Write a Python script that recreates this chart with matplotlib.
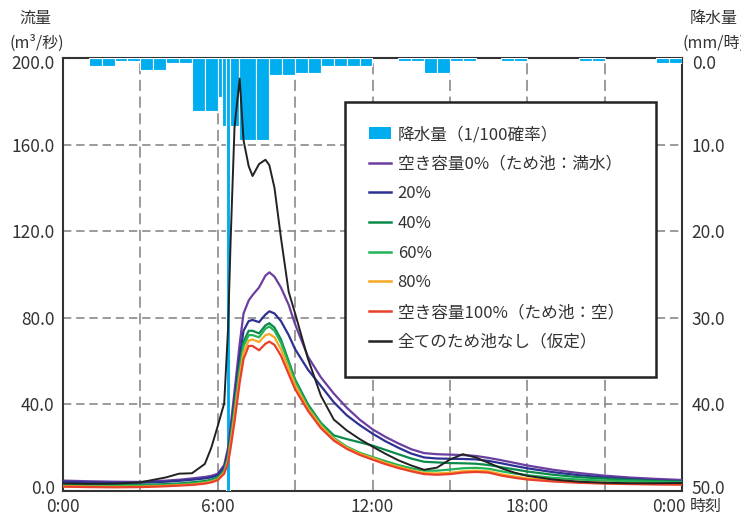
import matplotlib
matplotlib.use('Agg')
import matplotlib.pyplot as plt
from matplotlib.patches import Rectangle, Patch
from matplotlib.lines import Line2D
from matplotlib.transforms import ScaledTranslation

plt.rcParams['font.family'] = ['Noto Sans CJK JP', 'DejaVu Sans']
plt.rcParams['lines.scale_dashes'] = False

# ---------------- data ----------------
hours = [0, 1, 2, 3, 4, 4.5, 5, 5.5, 5.75, 6, 6.25, 6.4, 6.5, 6.65, 6.85, 7.0, 7.2, 7.35,
         7.6, 7.85, 8.0, 8.2, 8.45, 8.75, 9, 9.5, 10, 10.5, 11, 11.5, 12, 12.5, 13, 13.5,
         14, 14.5, 15, 15.5, 16, 16.5, 17, 17.5, 18, 19, 20, 21, 22, 23, 24]

flow_0 = [4.8, 4.5, 4.3, 4.2, 4.8, 5.2, 5.8, 6.5, 7, 8, 12, 20, 30, 46, 68, 82, 88, 90.5,
          94, 99.5, 101, 99, 94, 86, 77, 62, 52.5, 45, 38.5, 33, 28.5, 25, 22, 19.3,
          17.5, 17, 16.8, 16.6, 16.2, 15.3, 14.2, 13, 11.8, 9.8, 8.3, 7.1, 6.2, 5.6, 5.1]
flow_20 = [4.3, 4.0, 3.8, 3.8, 4.3, 4.7, 5.2, 5.8, 6.3, 7.3, 11, 18, 27, 42, 62, 74, 78.5, 79,
           78, 81.5, 83, 82, 78.5, 72, 65.5, 56, 48.5, 41, 35, 30.5, 26.5, 23, 20, 17.3,
           15.5, 15, 14.9, 14.8, 14.6, 13.9, 12.8, 11.6, 10.5, 8.7, 7.3, 6.3, 5.5, 4.9, 4.5]
flow_40 = [3.0, 2.8, 2.7, 2.8, 3.2, 3.5, 4.0, 4.6, 5.2, 6.3, 9.5, 16, 25, 39, 58, 69, 74, 74,
           72.8, 76.5, 77.5, 75.5, 70, 60, 51.5, 40, 31.5, 25.7, 24, 22.5, 21, 19, 17, 15,
           13.5, 13.2, 12.9, 12.8, 12.6, 12, 11, 10, 9, 7.5, 6.4, 5.7, 5.1, 4.6, 4.3]
flow_60 = [2.6, 2.4, 2.3, 2.4, 2.8, 3.1, 3.5, 4.2, 4.8, 5.8, 9, 15, 23.5, 37, 56, 67, 72, 72,
           71, 75, 76, 74, 68.5, 59, 50.5, 39, 31, 24.5, 20.5, 17.7, 15.7, 13.8, 12, 10.5,
           9.4, 9.4, 9.9, 10.5, 10.7, 10.3, 9.1, 8.1, 7.3, 6.1, 5.3, 4.8, 4.5, 4.2, 4.0]
flow_80 = [2.2, 2.0, 1.9, 2.0, 2.4, 2.7, 3.0, 3.7, 4.3, 5.3, 8.5, 14, 22, 35, 53, 64, 69.5, 70,
           68.8, 72, 72.5, 71, 65.5, 56.5, 49, 38, 30, 24, 20, 17.2, 15.2, 13, 11.2, 9.6,
           8.3, 8.1, 8.4, 9.1, 9.4, 9.1, 7.7, 6.7, 5.8, 4.8, 4.2, 3.8, 3.5, 3.3, 3.2]
flow_100 = [2.0, 1.8, 1.7, 1.8, 2.2, 2.5, 2.8, 3.4, 4, 5, 8, 13, 20, 32, 50, 61, 67, 67,
            65, 68, 69, 67.5, 62.5, 54, 47, 37, 29, 23.3, 19.5, 16.7, 14.5, 12.4, 10.6, 9.1,
            7.8, 7.5, 7.8, 8.5, 8.8, 8.5, 7.1, 6.1, 5.3, 4.4, 3.8, 3.4, 3.2, 3.0, 2.9]
flow_none = [3.5, 3.3, 3.4, 4.0, 6.3, 8.0, 8.2, 12.5, 20, 30, 40.5, 75, 116, 168, 190.5, 162, 150, 145.5,
             151, 153, 150.5, 140, 117, 92, 82, 61, 44, 33, 28, 24, 20.5, 17.2, 14.2, 11.8,
             9.8, 10.8, 14.5, 17, 15.5, 13, 10.5, 8.5, 7, 5.3, 4.3, 3.8, 3.6, 3.6, 3.7]

rain_start = [1.0, 1.5, 2.0, 2.5, 3.0, 3.5, 4.0, 4.5, 5.0, 5.5, 6.0, 6.17, 6.33, 6.47, 6.83, 7.5,
              8.0, 8.5, 9.0, 9.5, 10.0, 10.5, 11.0, 11.5, 13.0, 13.5, 14.0, 14.5, 15.0, 15.5,
              17.0, 17.5, 20.0, 20.5, 23.0, 23.5]
rain_end = [1.5, 2.0, 2.5, 3.0, 3.5, 4.0, 4.5, 5.0, 5.5, 6.0, 6.17, 6.33, 6.47, 6.83, 7.5, 8.0,
            8.5, 9.0, 9.5, 10.0, 10.5, 11.0, 11.5, 12.0, 13.5, 14.0, 14.5, 15.0, 15.5, 16.0,
            17.5, 18.0, 20.5, 21.0, 23.5, 24.0]
rain_mm = [0.9, 0.9, 0.35, 0.35, 1.4, 1.4, 0.55, 0.55, 6.1, 6.1, 4.5, 7.8, 50, 7.8, 9.5, 9.5,
           2.0, 2.0, 1.7, 1.7, 0.9, 0.9, 0.9, 0.9, 0.35, 0.35, 1.7, 1.7, 0.35, 0.35,
           0.35, 0.35, 0.35, 0.35, 0.55, 0.55]

x_ticks = [0, 6, 12, 18, 24]
x_tick_labels = ['0:00', '6:00', '12:00', '18:00', '0:00']
flow_ticks = [0, 40, 80, 120, 160, 200]
rain_ticks = [0, 10, 20, 30, 40, 50]

series = [
    ('空き容量0%（ため池：満水）', flow_0, '#6b3fa0'),
    ('20%', flow_20, '#2e3192'),
    ('40%', flow_40, '#0b8a4b'),
    ('60%', flow_60, '#22b357'),
    ('80%', flow_80, '#f7a823'),
    ('空き容量100%（ため池：空）', flow_100, '#e8402a'),
    ('全てのため池なし（仮定）', flow_none, '#222222'),
]
rain_label = '降水量（1/100確率）'
rain_color = '#00aeef'
txt = '#333333'

# ---------------- figure ----------------
W, H = 741, 514
fig = plt.figure(figsize=(W / 100, H / 100), dpi=100)
L, R, T, B = 63, 682, 58, 491
ax = fig.add_axes([L / W, (H - B) / H, (R - L) / W, (B - T) / H])
ax.set_xlim(0, 24)
ax.set_ylim(0, 200)
ax.set_xticks(x_ticks)
ax.set_xticklabels(x_tick_labels)
ax.set_yticks(flow_ticks)
ax.set_yticklabels([f'{v:.1f}' for v in flow_ticks])
ax.set_xticks([3, 9, 15, 21], minor=True)
ax.grid(True, which='both', axis='x', color='#8a8a8a', lw=1.2, linestyle=(0, (8, 4)))
ax.grid(True, which='major', axis='y', color='#8a8a8a', lw=1.2, linestyle=(0, (6, 3.5)))
ax.tick_params(axis='both', which='both', length=0, labelsize=12.5, labelcolor=txt)
ax.tick_params(axis='y', pad=6)
ax.tick_params(axis='x', pad=5)
for s in ax.spines.values():
    s.set_color('#333333')
    s.set_linewidth(1.5)


def inset_end_labels(labels, bottom_first):
    """Nudge the outermost y labels inward, as in the original layout."""
    down = ScaledTranslation(0, -4 / 100, fig.dpi_scale_trans)
    upw = ScaledTranslation(0, 4 / 100, fig.dpi_scale_trans)
    lo, hi = (labels[0], labels[-1]) if bottom_first else (labels[-1], labels[0])
    lo.set_transform(lo.get_transform() + upw)
    hi.set_transform(hi.get_transform() + down)


inset_end_labels(ax.get_yticklabels(), True)

# last "0:00" sits a little left to make room for 時刻
last = ax.get_xticklabels()[-1]
last.set_transform(last.get_transform() + ScaledTranslation(-13 / 100, 0, fig.dpi_scale_trans))

# rainfall bars (right axis, inverted)
ax2 = ax.twinx()
ax2.set_ylim(50, 0)
widths = [e - s for s, e in zip(rain_start, rain_end)]
ax2.bar(rain_start, rain_mm, width=widths, align='edge', color=rain_color,
        edgecolor='white', linewidth=0.8)
ax2.set_yticks(rain_ticks)
ax2.set_yticklabels([f'{v:.1f}' for v in rain_ticks])
ax2.tick_params(axis='y', length=0, labelsize=12.5, labelcolor=txt, pad=7)
inset_end_labels(ax2.get_yticklabels(), False)
for s in ax2.spines.values():
    s.set_visible(False)

# flow lines on top
ax3 = ax.twinx()
ax3.set_ylim(0, 200)
ax3.set_yticks([])
for s in ax3.spines.values():
    s.set_visible(False)
for label, vals, col in series:
    lw = 1.4 if col == '#222222' else 1.6
    ax3.plot(hours, vals, color=col, lw=lw, solid_joinstyle='round')

# legend with frame
fx0, fy0 = (345 - L) / (R - L), (B - 377) / (B - T)
fw, fh = (656 - 345) / (R - L), (377 - 102) / (B - T)
ax3.add_patch(Rectangle((fx0, fy0), fw, fh, transform=ax3.transAxes,
                        facecolor='white', edgecolor='#222222', lw=1.8, zorder=5))
handles = [Patch(facecolor=rain_color, edgecolor='none')]
labels = [rain_label]
for label, vals, col in series:
    handles.append(Line2D([], [], color=col, lw=1.8))
    labels.append(label)
leg = ax3.legend(handles, labels, loc='upper left',
                 bbox_to_anchor=((369 - L) / (R - L), (B - 126) / (B - T)),
                 frameon=False, fontsize=12, handlelength=1.32, handleheight=0.75,
                 handletextpad=0.4, labelspacing=0.76, borderpad=0, borderaxespad=0)
leg.set_zorder(6)
for t in leg.get_texts():
    t.set_color(txt)

# axis titles
fig.text(35 / W, 1 - 18 / H, '流量', ha='center', va='center', fontsize=11.5, color=txt)
fig.text(37 / W, 1 - 43 / H, '(m³/秒)', ha='center', va='center', fontsize=11.5, color=txt)
fig.text(714 / W, 1 - 18 / H, '降水量', ha='center', va='center', fontsize=11.5, color=txt)
fig.text(683 / W, 1 - 43 / H, '(mm/時)', ha='left', va='center', fontsize=11.5, color=txt)
fig.text(690 / W, 1 - 506 / H, '時刻', ha='left', va='center', fontsize=11.5, color=txt)

fig.savefig('out.png', dpi=100)
